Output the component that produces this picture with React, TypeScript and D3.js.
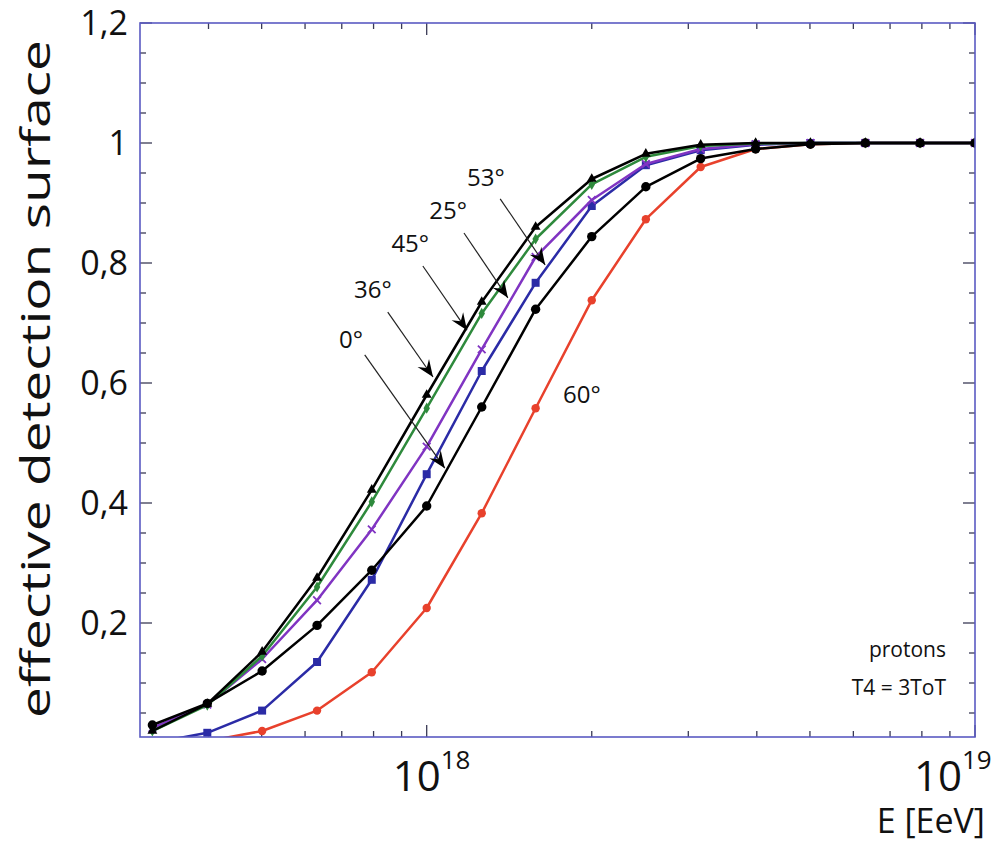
import React from "react";
import * as d3 from "d3";

// Energies (eV) of the simulated points
const energies = [3.16e17, 3.98e17, 5.01e17, 6.31e17, 7.94e17, 1e18, 1.26e18, 1.58e18, 2.0e18, 2.51e18, 3.16e18, 3.98e18, 5.01e18, 6.31e18, 7.94e18, 1e19];

// effective detection surface per zenith angle
const deg0 = [0.03, 0.066, 0.12, 0.196, 0.288, 0.395, 0.56, 0.723, 0.844, 0.927, 0.974, 0.99, 0.998, 1.0, 1.0, 1.0];
const deg25 = [0.025, 0.064, 0.14, 0.238, 0.356, 0.494, 0.656, 0.81, 0.905, 0.965, 0.99, 0.998, 1.0, 1.0, 1.0, 1.0];
const deg36 = [0.02, 0.065, 0.152, 0.275, 0.422, 0.58, 0.735, 0.86, 0.94, 0.982, 0.997, 1.0, 1.0, 1.0, 1.0, 1.0];
const deg45 = [0.02, 0.063, 0.145, 0.26, 0.402, 0.558, 0.716, 0.84, 0.931, 0.977, 0.995, 0.999, 1.0, 1.0, 1.0, 1.0];
const deg53 = [0.0, 0.017, 0.054, 0.135, 0.272, 0.448, 0.62, 0.767, 0.895, 0.963, 0.988, 0.997, 1.0, 1.0, 1.0, 1.0];
const deg60 = [0.0, 0.003, 0.02, 0.054, 0.118, 0.225, 0.383, 0.558, 0.738, 0.873, 0.96, 0.99, 0.998, 1.0, 1.0, 1.0];

const yMajorTicks = [0.2, 0.4, 0.6, 0.8, 1.0, 1.2];
const yTickLabels = ["0,2", "0,4", "0,6", "0,8", "1", "1,2"];
const yMinorTicks = [0.05, 0.1, 0.15, 0.25, 0.3, 0.35, 0.45, 0.5, 0.55, 0.65, 0.7, 0.75, 0.85, 0.9, 0.95, 1.05, 1.1, 1.15];
const xMajorTicks = [1e18, 1e19];
const xTickExponents = ["18", "19"];
const xMinorTicks = [4e17, 5e17, 6e17, 7e17, 8e17, 9e17, 2e18, 3e18, 4e18, 5e18, 6e18, 7e18, 8e18, 9e18];

// annotations: label position and arrow (log10 E, value)
const annLabels = ["0°", "36°", "45°", "25°", "53°"];
const annTextLogE = [17.862, 17.902, 17.97, 18.039, 18.108];
const annTextY = [0.673, 0.755, 0.832, 0.888, 0.942];
const annStartLogE = [17.887, 17.929, 17.993, 18.068, 18.134];
const annStartY = [0.647, 0.718, 0.795, 0.85, 0.907];
const annEndLogE = [18.033, 18.0115, 18.0735, 18.148, 18.216];
const annEndY = [0.458, 0.61, 0.688, 0.742, 0.797];

const series = [
  { name: "60°", values: deg60, color: "#e8412c", marker: "circleSmall" },
  { name: "53°", values: deg53, color: "#2b2ba6", marker: "square" },
  { name: "25°", values: deg25, color: "#8034c2", marker: "times" },
  { name: "45°", values: deg45, color: "#2e8a3c", marker: "diamond" },
  { name: "0°", values: deg0, color: "#000000", marker: "circle" },
  { name: "36°", values: deg36, color: "#000000", marker: "triangle" },
];

const FONT = "'Open Sans', 'DejaVu Sans', sans-serif";
const AXIS_COLOR = "#5a5ac2";
const TICK_COLOR = "#3a3a55";

export default function App() {
  const W = 1001, H = 842;
  const L = 140, R = 975, T = 23, B = 737;
  const x = d3.scaleLog().domain([3e17, 1e19]).range([L, R]);
  const y = d3.scaleLinear().domain([0.01, 1.2]).range([B, T]);

  const line = d3.line<number>()
    .x((_, i) => x(energies[i]))
    .y((d) => y(d));

  const symbolPath = (m: string) => {
    switch (m) {
      case "square": return d3.symbol(d3.symbolSquare, 64)();
      case "diamond": return d3.symbol(d3.symbolDiamond, 36)();
      case "triangle": return d3.symbol(d3.symbolTriangle, 42)();
      case "times": return d3.symbol(d3.symbolTimes, 40)();
      default: return null;
    }
  };

  const arrowHead = "M0,0 L-17,-7 L-11,0 L-17,7 Z";

  return (
    <svg width={W} height={H} style={{ position: "absolute", left: 0, top: 0, background: "#fff" }} fontFamily={FONT}>
      <defs>
        <clipPath id="plotClip">
          <rect x={L} y={T} width={R - L} height={B - T} />
        </clipPath>
      </defs>

      {/* ticks */}
      <g stroke={TICK_COLOR} strokeWidth={1.3}>
        {yMinorTicks.map((v) => (
          <g key={"ym" + v}>
            <line x1={L} x2={L + 6} y1={y(v)} y2={y(v)} />
            <line x1={R} x2={R - 6} y1={y(v)} y2={y(v)} />
          </g>
        ))}
        {yMajorTicks.map((v) => (
          <g key={"yM" + v}>
            <line x1={L} x2={L + 12} y1={y(v)} y2={y(v)} />
            <line x1={R} x2={R - 12} y1={y(v)} y2={y(v)} />
          </g>
        ))}
        {xMinorTicks.map((v) => (
          <g key={"xm" + v}>
            <line x1={x(v)} x2={x(v)} y1={B} y2={B - 6} />
            <line x1={x(v)} x2={x(v)} y1={T} y2={T + 6} />
          </g>
        ))}
        {xMajorTicks.map((v) => (
          <g key={"xM" + v}>
            <line x1={x(v)} x2={x(v)} y1={B} y2={B - 12} />
            <line x1={x(v)} x2={x(v)} y1={T} y2={T + 12} />
          </g>
        ))}
      </g>

      {/* curves */}
      <g clipPath="url(#plotClip)">
        {series.map((s) => (
          <g key={s.name}>
            <path d={line(s.values) || ""} fill="none" stroke={s.color} strokeWidth={2.5} strokeLinejoin="round" />
            {s.values.map((v, i) => {
              const cx = x(energies[i]);
              const cy = y(v);
              if (s.marker === "circle") return <circle key={i} cx={cx} cy={cy} r={4.7} fill={s.color} />;
              if (s.marker === "circleSmall") return <circle key={i} cx={cx} cy={cy} r={4.2} fill={s.color} />;
              if (s.marker === "times")
                return <path key={i} d={symbolPath("times") || ""} transform={`translate(${cx},${cy})`} fill="none" stroke={s.color} strokeWidth={1.8} />;
              return <path key={i} d={symbolPath(s.marker) || ""} transform={`translate(${cx},${cy})`} fill={s.color} />;
            })}
          </g>
        ))}
      </g>

      {/* frame */}
      <rect x={L} y={T} width={R - L} height={B - T} fill="none" stroke={AXIS_COLOR} strokeWidth={1.6} />

      {/* annotations */}
      {annLabels.map((lab, i) => {
        const x1 = x(Math.pow(10, annStartLogE[i]));
        const y1 = y(annStartY[i]);
        const x2 = x(Math.pow(10, annEndLogE[i]));
        const y2 = y(annEndY[i]);
        const ang = (Math.atan2(y2 - y1, x2 - x1) * 180) / Math.PI;
        return (
          <g key={lab}>
            <text x={x(Math.pow(10, annTextLogE[i]))} y={y(annTextY[i])} dy="0.35em" textAnchor="middle" fontSize={24} fill="#111">{lab}</text>
            <line x1={x1} y1={y1} x2={x2} y2={y2} stroke="#222" strokeWidth={1.2} />
            <path d={arrowHead} transform={`translate(${x2},${y2}) rotate(${ang})`} fill="#000" />
          </g>
        );
      })}
      <text x={x(Math.pow(10, 18.283))} y={y(0.58)} dy="0.35em" textAnchor="middle" fontSize={24} fill="#111">60°</text>

      <text x={946} y={657} textAnchor="end" fontSize={21} fill="#111">protons</text>
      <text x={946} y={695} textAnchor="end" fontSize={21} fill="#111">T4 = 3ToT</text>

      {/* y tick labels */}
      {yMajorTicks.map((v, i) => (
        <text key={"yl" + v} x={128} y={y(v)} dy="0.36em" textAnchor="end" fontSize={34} fill="#111">{yTickLabels[i]}</text>
      ))}

      {/* x tick labels */}
      {xMajorTicks.map((v, i) => {
        const last = i === xMajorTicks.length - 1;
        const xe = last ? x(v) - 13 : x(v) + 14;
        return (
          <g key={"xl" + v}>
            <text x={xe} y={791} textAnchor="end" fontSize={42} fill="#111">10</text>
            <text x={xe} y={769} textAnchor="start" fontSize={26} fill="#111">{xTickExponents[i]}</text>
          </g>
        );
      })}

      <text x={985} y={833} textAnchor="end" fontSize={34} fill="#111">E [EeV]</text>

      <text transform={`translate(50, 379) rotate(-90)`} textAnchor="middle" fontSize={40} fill="#111" textLength={678} lengthAdjust="spacingAndGlyphs">effective detection surface</text>
    </svg>
  );
}
